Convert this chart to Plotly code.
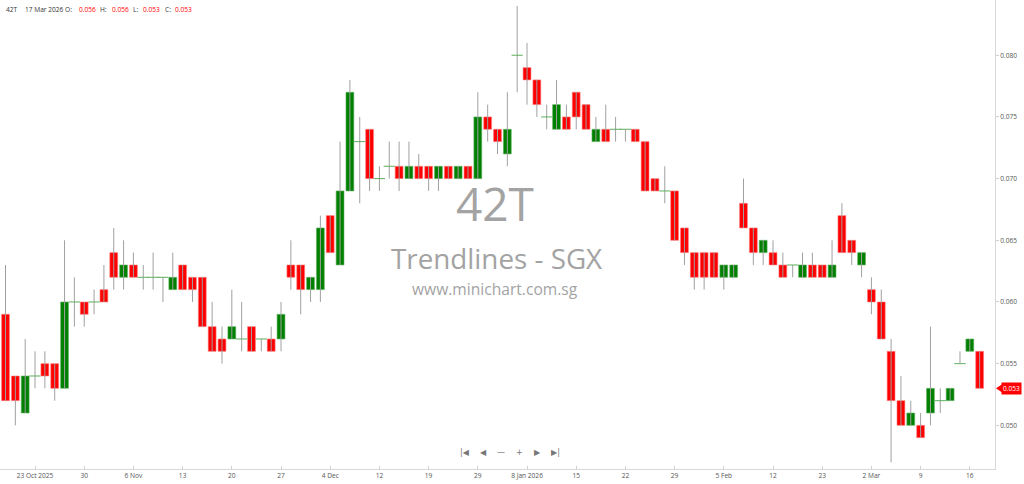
import plotly.graph_objects as go

# ---- data (prices in SGD) ----
opens  = [0.059,0.054,0.051,0.054,0.055,0.055,0.053,0.060,0.060,0.060,
          0.061,0.064,0.062,0.063,0.062,0.062,0.062,0.061,0.063,0.062,
          0.062,0.058,0.057,0.057,0.057,0.058,0.057,0.057,0.057,0.063,
          0.063,0.061,0.061,0.067,0.063,0.069,0.073,0.074,0.070,0.071,
          0.071,0.070,0.071,0.071,0.070,0.071,0.070,0.071,0.070,0.075,
          0.074,0.072,0.080,0.079,0.078,0.075,0.074,0.075,0.077,0.076,
          0.073,0.074,0.074,0.074,0.074,0.073,0.070,0.069,0.069,0.066,
          0.064,0.064,0.064,0.062,0.062,0.068,0.066,0.064,0.064,0.063,
          0.063,0.062,0.063,0.063,0.062,0.067,0.065,0.063,0.061,0.060,
          0.056,0.052,0.050,0.050,0.051,0.052,0.052,0.055,0.056,0.056]
highs  = [0.063,0.054,0.057,0.056,0.056,0.055,0.065,0.062,0.060,0.061,
          0.063,0.066,0.065,0.064,0.063,0.064,0.062,0.064,0.063,0.062,
          0.062,0.060,0.058,0.061,0.060,0.058,0.057,0.058,0.060,0.065,
          0.063,0.062,0.067,0.067,0.073,0.078,0.075,0.074,0.071,0.073,
          0.073,0.073,0.072,0.071,0.071,0.071,0.071,0.071,0.077,0.076,
          0.074,0.077,0.084,0.081,0.078,0.076,0.078,0.076,0.077,0.076,
          0.075,0.076,0.075,0.074,0.074,0.073,0.070,0.071,0.069,0.066,
          0.064,0.064,0.064,0.063,0.063,0.070,0.066,0.065,0.065,0.064,
          0.063,0.064,0.064,0.063,0.065,0.068,0.065,0.064,0.062,0.061,
          0.057,0.054,0.052,0.051,0.058,0.053,0.053,0.056,0.057,0.056]
lows   = [0.052,0.050,0.051,0.053,0.053,0.052,0.053,0.058,0.058,0.059,
          0.060,0.061,0.061,0.062,0.061,0.061,0.060,0.061,0.061,0.060,
          0.058,0.056,0.055,0.057,0.056,0.056,0.056,0.056,0.056,0.061,
          0.059,0.060,0.060,0.064,0.063,0.069,0.068,0.069,0.069,0.070,
          0.069,0.070,0.070,0.069,0.069,0.070,0.070,0.070,0.070,0.073,
          0.072,0.071,0.077,0.076,0.075,0.074,0.074,0.074,0.074,0.074,
          0.073,0.073,0.073,0.073,0.073,0.069,0.069,0.068,0.065,0.063,
          0.061,0.061,0.062,0.061,0.062,0.066,0.063,0.063,0.063,0.062,
          0.062,0.062,0.062,0.062,0.062,0.064,0.063,0.062,0.059,0.057,
          0.047,0.050,0.050,0.049,0.050,0.051,0.052,0.055,0.056,0.053]
closes = [0.052,0.052,0.054,0.054,0.054,0.053,0.060,0.060,0.059,0.060,
          0.060,0.062,0.063,0.062,0.062,0.062,0.062,0.062,0.061,0.061,
          0.058,0.056,0.056,0.058,0.057,0.056,0.057,0.056,0.059,0.062,
          0.061,0.062,0.066,0.064,0.069,0.077,0.073,0.070,0.070,0.071,
          0.070,0.071,0.070,0.070,0.071,0.070,0.071,0.070,0.075,0.074,
          0.073,0.074,0.080,0.078,0.076,0.075,0.076,0.074,0.075,0.074,
          0.074,0.073,0.074,0.074,0.073,0.069,0.069,0.069,0.065,0.064,
          0.062,0.062,0.062,0.063,0.063,0.066,0.064,0.065,0.063,0.062,
          0.063,0.063,0.062,0.062,0.063,0.064,0.064,0.064,0.060,0.057,
          0.052,0.050,0.051,0.049,0.053,0.052,0.053,0.055,0.057,0.053]

tick_index  = [3, 8, 13, 18, 23, 28, 33, 38, 43, 48, 53, 58, 63, 68, 73, 78, 83, 88, 93, 98]
tick_labels = ["23 Oct 2025", "30", "6 Nov", "13", "20", "27", "4 Dec", "12", "19", "29",
               "8 Jan 2026", "15", "22", "29", "5 Feb", "12", "23", "2 Mar", "9", "16"]
y_ticks = [0.050, 0.055, 0.060, 0.065, 0.070, 0.075, 0.080]

symbol = "42T"
last_date = "17 Mar 2026"

n = len(opens)
idx = list(range(n))
FONT = "Open Sans"

fig = go.Figure()

# wicks
wx, wy = [], []
for i in idx:
    wx += [i, i, None]
    wy += [lows[i], highs[i], None]
fig.add_trace(go.Scatter(x=wx, y=wy, mode="lines",
                         line=dict(color="#a0a0a0", width=1),
                         hoverinfo="skip", showlegend=False))

# bodies
for up in (True, False):
    xs, hs, bs = [], [], []
    for i in idx:
        o, c = opens[i], closes[i]
        if o == c:
            continue
        if (c > o) == up:
            xs.append(i)
            hs.append(abs(c - o))
            bs.append(min(o, c))
    fig.add_trace(go.Bar(
        x=xs, y=hs, base=bs, width=0.8,
        marker=dict(color="#008000" if up else "#ff0000",
                    line=dict(color="#66b366" if up else "#ff8080", width=0.6)),
        showlegend=False, hoverinfo="skip"))

# dojis
dx = [i for i in idx if opens[i] == closes[i]]
dy = [closes[i] for i in dx]
fig.add_trace(go.Scatter(x=dx, y=dy, mode="markers",
                         marker=dict(symbol="line-ew", size=8,
                                     line=dict(color="#5fae5f", width=1)),
                         hoverinfo="skip", showlegend=False))

fig.update_layout(
    width=1024, height=484,
    margin=dict(l=0, r=29, t=0, b=15),
    paper_bgcolor="white", plot_bgcolor="white",
    barmode="overlay", showlegend=False,
    font=dict(family=FONT, size=8, color="#555"),
    xaxis=dict(range=[-0.56, 100.56], tickmode="array", tickvals=tick_index,
               ticktext=tick_labels, showgrid=False, zeroline=False,
               showline=True, linecolor="#d8d8d8", linewidth=1,
               ticks="inside", ticklen=3, tickcolor="#d0d0d0",
               tickfont=dict(family=FONT, size=6.6, color="#555"), fixedrange=True),
    yaxis=dict(range=[0.04646, 0.08448], side="right", tickmode="array",
               tickvals=y_ticks, tickformat=".3f", showgrid=False, zeroline=False,
               showline=True, linecolor="#d8d8d8", linewidth=1,
               ticks="outside", ticklen=3, tickcolor="#d0d0d0",
               tickfont=dict(family=FONT, size=6.6, color="#555"), fixedrange=True),
)

# watermark
fig.add_annotation(text=symbol, x=495/995, y=1-203/469, xref="paper", yref="paper",
                   showarrow=False, font=dict(family=FONT, size=46, color="#a3a3a3"))
fig.add_annotation(text="Trendlines - SGX", x=496/995, y=1-258/469, xref="paper", yref="paper",
                   showarrow=False, font=dict(family=FONT, size=27.8, color="#a3a3a3"))
fig.add_annotation(text="www.minichart.com.sg", x=495/995, y=1-289/469, xref="paper", yref="paper",
                   showarrow=False, font=dict(family=FONT, size=15.6, color="#a3a3a3"))

# header
hdr = [(4, symbol, "#333"), (23, last_date, "#333"),
       (63, "O:", "#333"), (77, f"{opens[-1]:.3f}", "#ff0000"),
       (98, "H:", "#333"), (110, f"{highs[-1]:.3f}", "#ff0000"),
       (131, "L:", "#333"), (141, f"{lows[-1]:.3f}", "#ff0000"),
       (163, "C:", "#333"), (173, f"{closes[-1]:.3f}", "#ff0000")]
for px, t, col in hdr:
    fig.add_annotation(text=t, x=px/995, y=1-10/469, xref="paper", yref="paper",
                       xanchor="left", yanchor="middle", showarrow=False,
                       font=dict(family=FONT, size=6.6, color=col))

# navigation icons
for px, t in [(465, "|◀"), (483, "◀"), (501, "—"), (519, "+"), (537, "▶"), (555, "▶|")]:
    fig.add_annotation(text=t, x=px/995, y=1-459/469, xref="paper", yref="paper",
                       showarrow=False, font=dict(family="DejaVu Sans", size=8, color="#777"))

# last price label
lp = closes[-1]
fig.add_shape(type="path", xref="paper", yref="y",
              path=f"M 1.001,{lp} L 1.0075,{lp+0.00035} L 1.0075,{lp-0.00035} Z",
              fillcolor="#ff0000", line=dict(width=0))
fig.add_annotation(text=f"{lp:.3f}", x=1.0065, y=lp, xref="paper", yref="y",
                   xanchor="left", yanchor="middle", showarrow=False,
                   bgcolor="#ff0000", borderpad=1,
                   font=dict(family=FONT, size=6.6, color="white"))

fig.write_html("out.html", config={"displayModeBar": False},
               post_script="document.body.style.margin='0px';document.body.style.padding='0px';")
